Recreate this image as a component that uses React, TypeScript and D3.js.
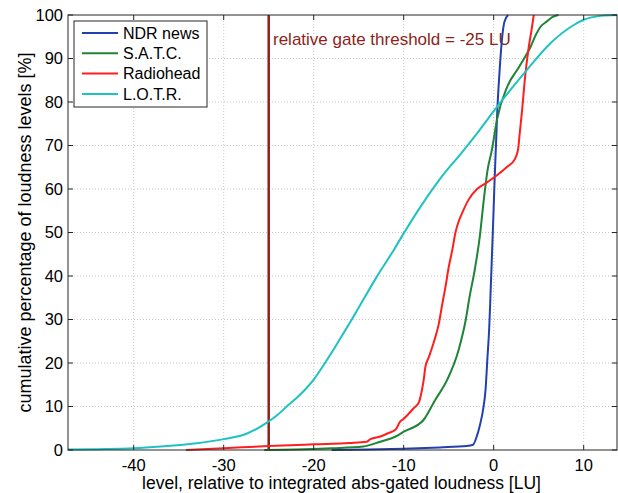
import React from "react";
import * as d3 from "d3";

const seriesNames = ["NDR news", "S.A.T.C.", "Radiohead", "L.O.T.R."];
const seriesColors = ["#2340b0", "#1e8436", "#ff1e1e", "#1ec2c2"];

const ndrNews: [number, number][] = [
  [-18, 0], [-14, 0.1], [-10, 0.3], [-6, 0.6], [-3, 0.9], [-2.3, 1.2], [-1.9, 3], [-1.5, 6],
  [-1.2, 9], [-0.9, 14], [-0.7, 21], [-0.5, 28], [-0.35, 36], [-0.1, 50], [0.1, 62],
  [0.25, 70], [0.4, 78], [0.65, 87], [0.9, 94], [1.2, 98.5], [1.6, 100],
];

const satc: [number, number][] = [
  [-25.5, 0], [-22, 0.1], [-18, 0.4], [-14.5, 0.8], [-12.6, 1.9], [-10.9, 3.1], [-10, 4.2],
  [-7.8, 6.9], [-6.5, 11.5], [-5.2, 16], [-3.9, 23], [-3.1, 30], [-2.7, 35], [-2.1, 41.5],
  [-1.55, 49], [-1.1, 57.5], [-0.67, 64.5], [-0.2, 69], [0.37, 76], [1.5, 83.5], [2.8, 88],
  [4.1, 92.7], [4.7, 95.5], [5.2, 97.3], [5.9, 98.5], [6.5, 99.5], [7.2, 100],
];

const radiohead: [number, number][] = [
  [-34.2, 0], [-30, 0.4], [-25, 0.9], [-20, 1.3], [-16, 1.6], [-14.1, 1.9], [-13.7, 2.5],
  [-12.6, 3.1], [-11.8, 3.8], [-10.9, 4.7], [-10.4, 6.5], [-10, 7.2], [-9.6, 8], [-8.9, 9.6],
  [-8.3, 11], [-8, 13.5], [-7.75, 16.5], [-7.6, 19], [-7.2, 21.4], [-6.7, 24.5], [-6.1, 29],
  [-5.7, 33.7], [-5.4, 37], [-5, 42], [-4.6, 46], [-4.25, 50], [-3.9, 52.5], [-3.5, 54.5],
  [-2.8, 57.5], [-1.85, 60], [-0.9, 61.3], [0.4, 63.2], [1.5, 65.1], [2.3, 66.7], [2.7, 69],
  [2.9, 73], [3.15, 78], [3.5, 86], [3.9, 92.7], [4.2, 96.5], [4.45, 100],
];

const lotr: [number, number][] = [
  [-47.3, 0.1], [-44, 0.2], [-40, 0.4], [-37, 0.8], [-33.3, 1.5], [-30, 2.5], [-27.4, 3.8],
  [-25.2, 6.3], [-24, 8.1], [-23, 10], [-22, 11.8], [-21, 13.8], [-20, 16.2], [-19, 19.2],
  [-18, 22.4], [-17, 25.8], [-16, 29.2], [-15.2, 32], [-13, 39.8], [-11.1, 46], [-10, 49.8],
  [-8.1, 56], [-5.9, 62.5], [-3.5, 68.5], [-1.85, 72.8], [0.4, 79], [3.7, 87.4], [6.3, 93.5],
  [8.9, 97.7], [10, 98.9], [11.9, 99.8], [13.7, 100],
];

const seriesData = [ndrNews, satc, radiohead, lotr];

const xTicks = [-40, -30, -20, -10, 0, 10];
const yTicks = [0, 10, 20, 30, 40, 50, 60, 70, 80, 90, 100];
const xDomain: [number, number] = [-47.3, 13.7];
const yDomain: [number, number] = [0, 100];
const thresholdValue = -25;
const thresholdLabel = "relative gate threshold = -25 LU";
const xLabel = "level, relative to integrated abs-gated loudness [LU]";
const yLabel = "cumulative percentage of loudness levels [%]";

const W = 618;
const H = 493;
const left = 68;
const right = 617;
const top = 15;
const bottom = 450;
const FONT = "Arial, 'Liberation Sans', Helvetica, sans-serif";
const AXIS = "#262626";

export default function App() {
  const x = d3.scaleLinear().domain(xDomain).range([left, right]);
  const y = d3.scaleLinear().domain(yDomain).range([bottom, top]);
  const line = d3
    .line<[number, number]>()
    .x((d) => x(d[0]))
    .y((d) => y(d[1]))
    .curve(d3.curveMonotoneX);

  const legendX = 74;
  const legendY = 21;
  const rowH = 20.3;

  return (
    <svg
      width={W}
      height={H}
      style={{ position: "absolute", left: 0, top: 0, background: "#fff" }}
      fontFamily={FONT}
    >
      <defs>
        <clipPath id="plotClip">
          <rect x={left} y={top - 1} width={right - left} height={bottom - top + 2} />
        </clipPath>
      </defs>
      <rect x={0} y={0} width={W} height={H} fill="#fff" />
      {/* grid */}
      {xTicks.map((t) => (
        <line
          key={"gx" + t}
          x1={x(t)}
          x2={x(t)}
          y1={top}
          y2={bottom}
          stroke="#c8c8c8"
          strokeWidth={1}
          strokeDasharray="1,2"
        />
      ))}
      {yTicks
        .filter((t) => t !== 0 && t !== 100)
        .map((t) => (
          <line
            key={"gy" + t}
            x1={left}
            x2={right}
            y1={y(t)}
            y2={y(t)}
            stroke="#c8c8c8"
            strokeWidth={1}
            strokeDasharray="1,2"
          />
        ))}
      {/* threshold */}
      <line
        x1={x(thresholdValue)}
        x2={x(thresholdValue)}
        y1={top}
        y2={bottom}
        stroke="#8e1f1a"
        strokeWidth={2.5}
      />
      <text x={273} y={45} fontSize={17} fill="#8e1f1a">
        {thresholdLabel}
      </text>
      {/* curves */}
      <g clipPath="url(#plotClip)">
        {seriesData.map((s, i) => (
          <path
            key={seriesNames[i]}
            d={line(s) || ""}
            fill="none"
            stroke={seriesColors[i]}
            strokeWidth={2}
            strokeLinejoin="round"
          />
        ))}
      </g>
      {/* axes box */}
      <rect
        x={left}
        y={top}
        width={right - left}
        height={bottom - top}
        fill="none"
        stroke={AXIS}
        strokeWidth={1}
      />
      {xTicks.map((t) => (
        <g key={"xt" + t}>
          <line x1={x(t)} x2={x(t)} y1={bottom} y2={bottom - 5} stroke={AXIS} />
          <line x1={x(t)} x2={x(t)} y1={top} y2={top + 5} stroke={AXIS} />
          <text x={x(t)} y={470.5} fontSize={16.5} textAnchor="middle" fill="#000">
            {t}
          </text>
        </g>
      ))}
      {yTicks.map((t) => (
        <g key={"yt" + t}>
          <line x1={left} x2={left + 5} y1={y(t)} y2={y(t)} stroke={AXIS} />
          <line x1={right} x2={right - 5} y1={y(t)} y2={y(t)} stroke={AXIS} />
          <text
            x={left - 5}
            y={y(t)}
            dy="0.36em"
            fontSize={16.5}
            textAnchor="end"
            fill="#000"
          >
            {t}
          </text>
        </g>
      ))}
      {/* axis labels */}
      <text x={(left + right) / 2 - 1} y={488.5} fontSize={17.5} textAnchor="middle" fill="#000">
        {xLabel}
      </text>
      <text
        transform={`translate(31,${(top + bottom) / 2}) rotate(-90)`}
        fontSize={18}
        textAnchor="middle"
        fill="#000"
      >
        {yLabel}
      </text>
      {/* legend */}
      <rect
        x={legendX}
        y={legendY}
        width={133}
        height={86}
        fill="#fff"
        stroke={AXIS}
        strokeWidth={1}
      />
      {seriesNames.map((n, i) => {
        const cy = 33 + i * rowH;
        return (
          <g key={"lg" + n}>
            <line x1={82} x2={118} y1={cy} y2={cy} stroke={seriesColors[i]} strokeWidth={2} />
            <text x={123} y={cy} dy="0.36em" fontSize={16} fill="#000">
              {n}
            </text>
          </g>
        );
      })}
    </svg>
  );
}
